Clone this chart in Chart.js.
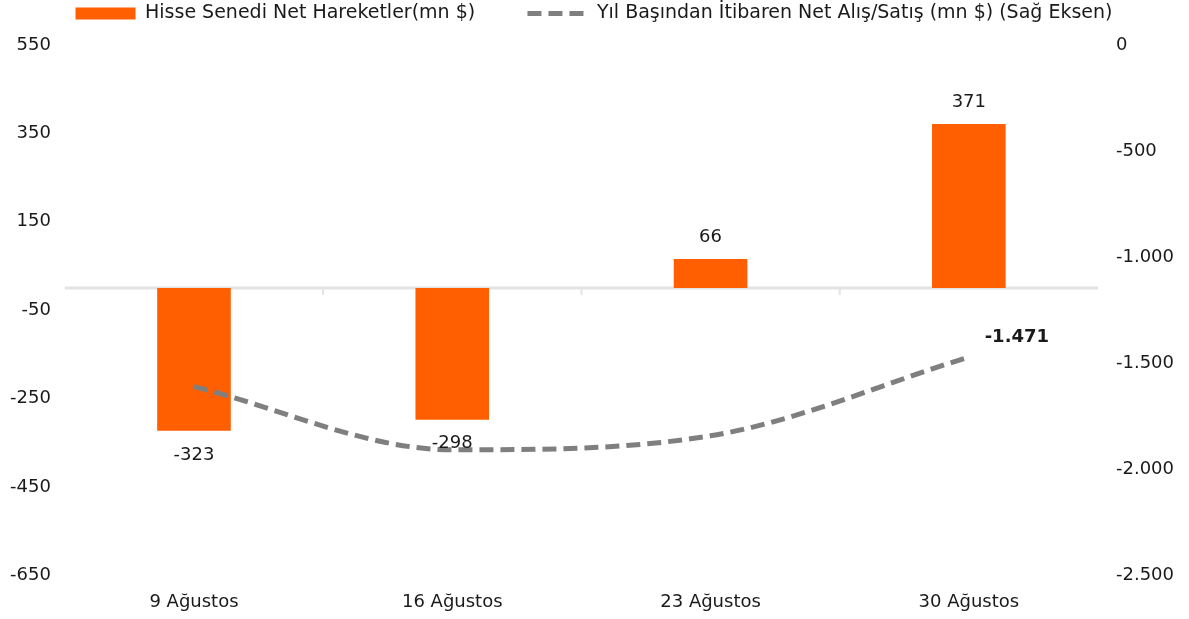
<!DOCTYPE html>
<html>
<head>
<meta charset="utf-8">
<script src="https://cdn.jsdelivr.net/npm/chart.js@4/dist/chart.umd.min.js"></script>
<style>
  html, body { margin: 0; padding: 0; background: #fff; }
  #wrap { width: 1189px; height: 619px; }
</style>
</head>
<body>
<div id="wrap"><canvas id="c" width="1189" height="619"></canvas></div>
<script>
const categories = ['9 Ağustos', '16 Ağustos', '23 Ağustos', '30 Ağustos'];
const weeklyFlows = [-323, -298, 66, 371];
const ytdFlows = [-1610, -1908, -1842, -1471];
const barLabel = 'Hisse Senedi Net Hareketler(mn $)';
const lineLabel = 'Yıl Başından İtibaren Net Alış/Satış (mn $) (Sağ Eksen)';

const FONT = 'DejaVu Sans';
const TXT = '#1a1a1a';
const DASH = [14, 7];
const fmt = v => v.toLocaleString('de-DE');

// zero line + small ticks between categories
const zeroLine = {
  id: 'zeroLine',
  beforeDatasetsDraw(chart) {
    const {ctx, chartArea, scales} = chart;
    const y0 = scales.y.getPixelForValue(0);
    ctx.save();
    ctx.strokeStyle = '#e3e3e3';
    ctx.lineWidth = 3;
    ctx.beginPath();
    ctx.moveTo(chartArea.left, y0);
    ctx.lineTo(chartArea.right, y0);
    ctx.stroke();
    ctx.lineWidth = 2;
    for (let i = 1; i < categories.length; i++) {
      const x = (scales.x.getPixelForTick(i - 1) + scales.x.getPixelForTick(i)) / 2;
      ctx.beginPath();
      ctx.moveTo(x, y0);
      ctx.lineTo(x, y0 + 7);
      ctx.stroke();
    }
    ctx.restore();
  }
};

const valueLabels = {
  id: 'valueLabels',
  afterDatasetsDraw(chart) {
    const {ctx} = chart;
    ctx.save();
    ctx.textAlign = 'center';
    ctx.textBaseline = 'middle';
    ctx.fillStyle = TXT;
    ctx.font = '18px "' + FONT + '"';
    chart.getDatasetMeta(0).data.forEach((bar, i) => {
      const v = weeklyFlows[i];
      const y = v >= 0 ? bar.y - 22 : bar.y + 24;
      ctx.fillText(fmt(v), bar.x, y);
    });
    const pts = chart.getDatasetMeta(1).data;
    const last = pts[pts.length - 1];
    ctx.font = 'bold 18px "' + FONT + '"';
    ctx.fillText(fmt(ytdFlows[ytdFlows.length - 1]), last.x + 48, last.y - 20);
    ctx.restore();
  }
};

new Chart(document.getElementById('c'), {
  data: {
    labels: categories,
    datasets: [
      {
        type: 'bar',
        label: barLabel,
        data: weeklyFlows,
        backgroundColor: '#ff5f00',
        borderWidth: 0,
        categoryPercentage: 1,
        barPercentage: 0.285,
        yAxisID: 'y',
        pointStyle: 'rect',
        order: 2
      },
      {
        type: 'line',
        label: lineLabel,
        data: ytdFlows,
        borderColor: '#7f7f7f',
        backgroundColor: '#7f7f7f',
        borderWidth: 5,
        borderDash: DASH,
        pointRadius: 0,
        cubicInterpolationMode: 'monotone',
        fill: false,
        yAxisID: 'y1',
        pointStyle: 'line',
        order: 1
      }
    ]
  },
  options: {
    responsive: false,
    animation: false,
    layout: { padding: { left: -4, right: -3, top: 0, bottom: -10 } },
    plugins: {
      legend: {
        position: 'top',
        weight: 1000,
        labels: {
          usePointStyle: true,
          pointStyleWidth: 60,
          boxHeight: 12,
          padding: 4,
          color: TXT,
          font: { family: FONT, size: 19 },
          sort: (a, b) => a.datasetIndex - b.datasetIndex,
          generateLabels: chart => Chart.defaults.plugins.legend.labels.generateLabels(chart)
            .map(item => {
              if (item.datasetIndex === 0) item.text = item.text + '        ';
              if (item.datasetIndex === 1) { item.lineDash = DASH; item.lineWidth = 5; }
              return item;
            })
        }
      },
      // empty subtitle used as spacer between legend and plot
      subtitle: {
        display: true,
        text: '',
        position: 'top',
        weight: 500,
        padding: 0,
        font: { size: 10, lineHeight: 1.2 }
      },
      tooltip: { enabled: false }
    },
    scales: {
      x: {
        grid: { display: false, drawTicks: false },
        border: { display: false },
        ticks: { color: TXT, font: { family: FONT, size: 18 }, padding: 16 }
      },
      y: {
        position: 'left',
        min: -650,
        max: 550,
        grid: { display: false, drawTicks: false },
        border: { display: false },
        ticks: { stepSize: 200, color: TXT, font: { family: FONT, size: 18 }, padding: 14 }
      },
      y1: {
        position: 'right',
        min: -2500,
        max: 0,
        grid: { display: false, drawTicks: false },
        border: { display: false },
        ticks: { stepSize: 500, color: TXT, font: { family: FONT, size: 18 }, padding: 18,
                 callback: v => fmt(v) }
      }
    }
  },
  plugins: [zeroLine, valueLabels]
});
</script>
</body>
</html>
